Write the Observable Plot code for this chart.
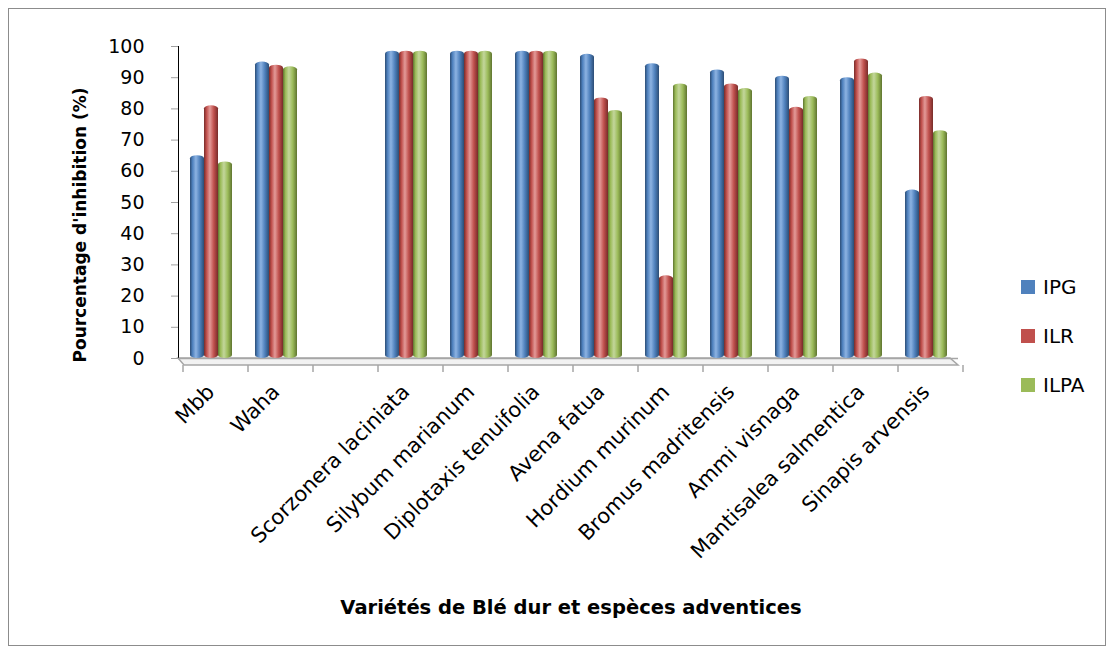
<!DOCTYPE html>
<html>
<head>
<meta charset="utf-8">
<script src="https://cdn.jsdelivr.net/npm/d3@7"></script>
<script src="https://cdn.jsdelivr.net/npm/@observablehq/plot@0.6"></script>
<style>
  html, body { margin: 0; padding: 0; background: #fff; }
  #wrap { position: relative; width: 1113px; height: 653px; overflow: hidden; font-family: "DejaVu Sans", sans-serif; }
  #border { position: absolute; left: 8px; top: 8px; width: 1096px; height: 636px; border: 1px solid #8c8c8c; pointer-events: none; }
  #chart { position: absolute; left: 0; top: 0; }
  .ytitle { position: absolute; left: 80px; top: 225px; transform: translate(-50%, -50%) rotate(-90deg); white-space: nowrap; font-weight: bold; font-size: 17px; color: #000; }
  .xtitle { position: absolute; left: 571px; top: 607px; transform: translate(-50%, -50%); white-space: nowrap; font-weight: bold; font-size: 19.5px; color: #000; }
  .legend { position: absolute; left: 1021px; top: 262px; }
  .legend .item { display: flex; align-items: center; height: 49px; font-size: 20px; color: #000; }
  .legend .sw { width: 14px; height: 14px; margin-right: 8px; }
  svg [aria-label^="y-axis"] line, svg [aria-label^="y-axis"] path { stroke: #a0a0a0; }
  svg [aria-label^="fx-axis"] text { font-size: 21px; }
</style>
</head>
<body>
<svg width="0" height="0" style="position:absolute">
  <defs id="gdefs"></defs>
</svg>
<div id="wrap">
  <div id="chart"></div>
  <div id="border"></div>
  <div class="ytitle">Pourcentage d'inhibition (%)</div>
  <div class="xtitle">Variétés de Blé dur et espèces adventices</div>
  <div class="legend" id="legend"></div>
</div>
<script>
// ---- data ----
const categories = ["Mbb", "Waha", "", "Scorzonera laciniata", "Silybum marianum", "Diplotaxis tenuifolia",
  "Avena fatua", "Hordium murinum", "Bromus madritensis", "Ammi visnaga", "Mantisalea salmentica", "Sinapis arvensis"];
const seriesNames = ["IPG", "ILR", "ILPA"];
const ipg  = [65, 95, 0, 98.5, 98.5, 98.5, 97.5, 94.5, 92.5, 90.5, 90, 54];
const ilr  = [81, 94, 0, 98.5, 98.5, 98.5, 83.5, 26.5, 88, 80.5, 96, 84];
const ilpa = [63, 93.5, 0, 98.5, 98.5, 98.5, 79.5, 88, 86.5, 84, 91.5, 73];
const yTicks = [0, 10, 20, 30, 40, 50, 60, 70, 80, 90, 100];
const baseColors = ["#4f81bd", "#c0504d", "#9bbb59"];
const darkColors = ["#2c4d75", "#772c2a", "#5f7530"];
const lightColors = ["#8db3e2", "#e39a98", "#c3d69b"];

// ---- gradients (cylinder look) ----
const defs = d3.select("#gdefs");
seriesNames.forEach((s, i) => {
  const g = defs.append("linearGradient").attr("id", "g" + s).attr("x1", "0").attr("x2", "1").attr("y1", "0").attr("y2", "0");
  [[0, darkColors[i]], [0.18, baseColors[i]], [0.42, lightColors[i]], [0.7, baseColors[i]], [1, darkColors[i]]]
    .forEach(([o, c]) => g.append("stop").attr("offset", o).attr("stop-color", c));
});

// ---- table ----
const values = [ipg, ilr, ilpa];
const table = [];
categories.forEach((c, ci) => seriesNames.forEach((s, si) => {
  table.push({category: c, series: s, value: values[si][ci]});
}));

const plot = Plot.plot({
  width: 1113,
  height: 653,
  marginTop: 46,
  marginBottom: 295,
  marginLeft: 178,
  marginRight: 155,
  style: {fontFamily: "DejaVu Sans, sans-serif", fontSize: "19px", color: "#000", background: "transparent"},
  fx: {domain: categories, padding: 0, axis: "bottom", tickRotate: -45, tickSize: 0, tickPadding: 30, label: null},
  x: {domain: seriesNames, paddingInner: 0.02, paddingOuter: 0.7, align: 0.5, axis: null},
  y: {domain: [0, 100], ticks: yTicks, tickSize: 7, tickPadding: 27, line: true, label: null, grid: false},
  color: {domain: seriesNames, range: seriesNames.map(s => `url(#g${s})`)},
  facet: {data: table, x: "category"},
  marks: [
    Plot.ruleY([0], {stroke: "#a6a6a6", strokeWidth: 1.5}),
    Plot.barY(table, {filter: d => d.value > 0, x: "series", y: "value", fill: "series", rx: 7, ry: 3})
  ]
});
document.getElementById("chart").appendChild(plot);

// floor and category boundary ticks via the plot's scales
const fx = plot.scale("fx"), y = plot.scale("y");
const svg = d3.select(plot);
const y0 = y.apply(0);
const left = fx.range[0], right = fx.range[1];
const floor = svg.insert("g", ":first-child");
floor.append("path")
  .attr("d", `M${left},${y0} L${right - 8},${y0} L${right},${y0 + 7} L${left + 6},${y0 + 7} Z`)
  .attr("fill", "#f2f2f2").attr("stroke", "#a6a6a6").attr("stroke-width", 1.5);
const bounds = categories.map(c => fx.apply(c)).concat([right]);
svg.append("g").selectAll("line").data(bounds).join("line")
  .attr("x1", d => d + 5).attr("x2", d => d + 5)
  .attr("y1", y0 + 7).attr("y2", y0 + 14)
  .attr("stroke", "#a6a6a6").attr("stroke-width", 1.5);

// legend
const legend = d3.select("#legend");
seriesNames.forEach((s, i) => {
  const it = legend.append("div").attr("class", "item");
  it.append("div").attr("class", "sw").style("background", baseColors[i]);
  it.append("span").text(s);
});
</script>
</body>
</html>
